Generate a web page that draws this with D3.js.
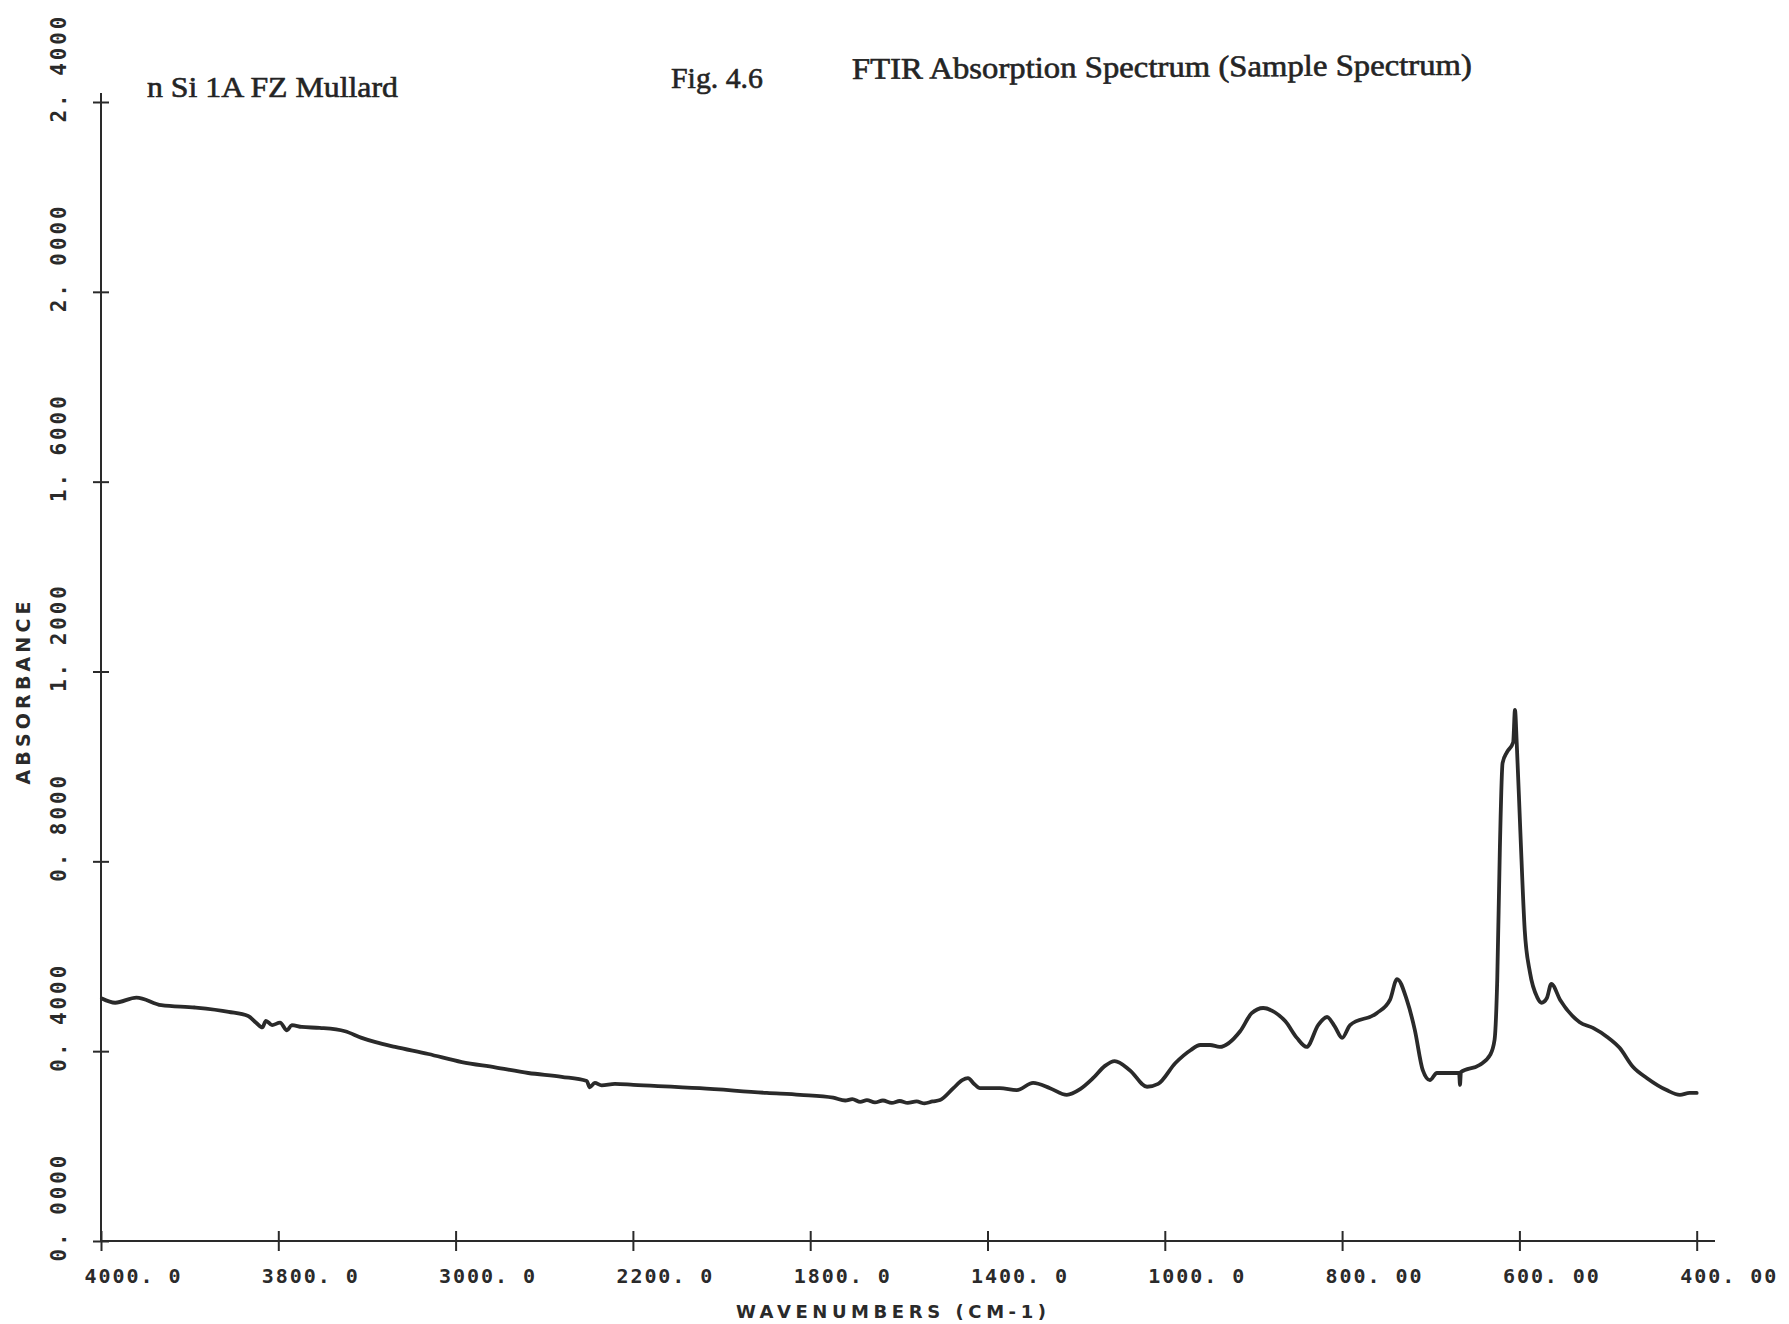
<!DOCTYPE html>
<html>
<head>
<meta charset="utf-8">
<script src="https://cdn.jsdelivr.net/npm/d3@7/dist/d3.min.js"></script>
<style>
  html, body { margin: 0; padding: 0; background: #ffffff; }
  svg { display: block; }
</style>
</head>
<body>
<svg id="chart" width="1789" height="1324"></svg>
<script>
// ---------- DATA ----------
const xTickValues = [4000, 3800, 3000, 2200, 1800, 1400, 1000, 800, 600, 400];
const xTickLabels = ["4000. 0", "3800. 0", "3000. 0", "2200. 0", "1800. 0", "1400. 0", "1000. 0", "800. 00", "600. 00", "400. 00"];
const yTickValues = [0, 0.4, 0.8, 1.2, 1.6, 2.0, 2.4];
const yTickLabels = ["0. 0000", "0. 4000", "0. 8000", "1. 2000", "1. 6000", "2. 0000", "2. 4000"];

const wavenumbers = [
  3999, 3984, 3960, 3932, 3894, 3856, 3834, 3825, 3818, 3814, 3807, 3792, 3761, 3739, 3694, 3613,
  3499, 3424, 3361, 3273, 3123, 2972, 2822, 2672, 2521, 2408, 2395, 2372, 2341, 2281, 2199, 2049,
  1898, 1823, 1748, 1721, 1705, 1687, 1672, 1654, 1636, 1616, 1598, 1580, 1560, 1542, 1524, 1507,
  1477, 1457, 1444, 1430, 1417, 1372, 1334, 1297, 1259, 1221, 1191, 1162, 1135, 1113, 1079, 1040,
  1015, 988, 971, 960, 949, 938, 915, 902, 889, 876, 864, 851, 840, 827, 817, 808,
  800, 791, 761, 746, 738, 727, 718, 709, 701, 693, 668, 667, 666, 645, 633, 628,
  625, 622, 619, 614, 607, 605, 603, 599, 594, 588, 580, 575, 569, 564, 554, 532,
  517, 501, 487, 472, 456, 434, 419, 408, 400
];
const absorbance = [
  0.511, 0.502, 0.513, 0.497, 0.492, 0.483, 0.474, 0.460, 0.450, 0.464, 0.455, 0.460, 0.444, 0.455, 0.451, 0.449,
  0.442, 0.428, 0.419, 0.409, 0.394, 0.377, 0.366, 0.354, 0.346, 0.337, 0.324, 0.333, 0.328, 0.331, 0.329, 0.322,
  0.312, 0.308, 0.302, 0.296, 0.299, 0.293, 0.297, 0.292, 0.296, 0.291, 0.295, 0.291, 0.294, 0.290, 0.294, 0.297,
  0.322, 0.339, 0.343, 0.331, 0.322, 0.322, 0.318, 0.333, 0.322, 0.308, 0.320, 0.343, 0.369, 0.379, 0.360, 0.325,
  0.331, 0.375, 0.402, 0.413, 0.413, 0.409, 0.442, 0.480, 0.491, 0.482, 0.463, 0.428, 0.409, 0.455, 0.472, 0.451,
  0.428, 0.455, 0.480, 0.508, 0.552, 0.508, 0.445, 0.360, 0.339, 0.354, 0.354, 0.329, 0.356, 0.371, 0.392, 0.424,
  0.550, 0.830, 1.007, 1.030, 1.051, 1.119, 1.049, 0.866, 0.655, 0.565, 0.514, 0.502, 0.512, 0.542, 0.508, 0.461,
  0.449, 0.430, 0.407, 0.367, 0.343, 0.318, 0.308, 0.312, 0.312
];

// ---------- LAYOUT ----------
const X0 = 101, XSTEP = 177.3;
const Y0 = 1241, YTOP = 102;
const ink = "#2a2a2a";

const svg = d3.select("#chart");
svg.append("rect").attr("width", 1789).attr("height", 1324).attr("fill", "#ffffff");

// split wavenumber scale: each labelled tick equally spaced
const x = d3.scaleLinear()
  .domain(xTickValues)
  .range(xTickValues.map((d, i) => X0 + i * XSTEP));
const y = d3.scaleLinear().domain([0, 2.4]).range([Y0, YTOP]);

const plotFont = "'DejaVu Sans Mono', monospace";

// ---------- X AXIS ----------
const xAxis = d3.axisBottom(x)
  .tickValues(xTickValues)
  .tickFormat((d, i) => xTickLabels[i])
  .tickSizeOuter(0)
  .tickSizeInner(10);
const gx = svg.append("g").attr("transform", `translate(0,${Y0})`).call(xAxis);
gx.select(".domain").remove();
gx.selectAll(".tick line").attr("y1", -10).attr("y2", 10).attr("stroke", ink).attr("stroke-width", 2);
gx.selectAll(".tick text")
  .attr("x", -17).attr("y", 35).attr("dy", "0.35em")
  .attr("text-anchor", "start")
  .attr("font-family", plotFont).attr("font-weight", "bold").attr("font-size", 20)
  .attr("fill", ink)
  .attr("textLength", 96).attr("lengthAdjust", "spacing");
gx.append("line").attr("x1", X0).attr("x2", 1715).attr("y1", 0).attr("y2", 0)
  .attr("stroke", ink).attr("stroke-width", 2.2);

// ---------- Y AXIS ----------
const yAxis = d3.axisLeft(y)
  .tickValues(yTickValues)
  .tickFormat((d, i) => yTickLabels[i])
  .tickSizeOuter(0)
  .tickSizeInner(8);
const gy = svg.append("g").attr("transform", `translate(${X0},0)`).call(yAxis);
gy.select(".domain").remove();
gy.selectAll(".tick line").attr("x1", -8).attr("x2", 8).attr("stroke", ink).attr("stroke-width", 2);
gy.selectAll(".tick text")
  .attr("x", null).attr("dy", null)
  .attr("transform", "translate(-42,20) rotate(-90)")
  .attr("dy", "0.35em")
  .attr("text-anchor", "start")
  .attr("font-family", plotFont).attr("font-weight", "bold").attr("font-size", 21)
  .attr("fill", ink)
  .attr("textLength", 106).attr("lengthAdjust", "spacing");
gy.append("line").attr("x1", 0).attr("x2", 0).attr("y1", 93).attr("y2", Y0)
  .attr("stroke", ink).attr("stroke-width", 2);

// ---------- AXIS TITLES ----------
svg.append("text")
  .attr("transform", "translate(23,693) rotate(-90)")
  .attr("text-anchor", "middle").attr("dy", "0.35em")
  .attr("font-family", "'DejaVu Sans', sans-serif").attr("font-weight", "bold").attr("font-size", 19)
  .attr("fill", ink)
  .attr("textLength", 183).attr("lengthAdjust", "spacing")
  .text("ABSORBANCE");

svg.append("text")
  .attr("x", 891).attr("y", 1312).attr("dy", "0.35em")
  .attr("text-anchor", "middle")
  .attr("font-family", "'DejaVu Sans', sans-serif").attr("font-weight", "bold").attr("font-size", 18)
  .attr("fill", ink)
  .attr("textLength", 310).attr("lengthAdjust", "spacing")
  .text("WAVENUMBERS  (CM-1)");

// ---------- TITLES ----------
const serif = "'Liberation Serif', 'Times New Roman', serif";
const titleStyle = sel => sel
  .attr("font-family", serif).attr("font-size", 30).attr("fill", "#242424")
  .attr("stroke", "#242424").attr("stroke-width", 0.6)
  .attr("lengthAdjust", "spacingAndGlyphs");
svg.append("text").call(titleStyle)
  .attr("x", 147).attr("y", 97)
  .attr("textLength", 251)
  .text("n Si 1A FZ Mullard");
svg.append("text").call(titleStyle)
  .attr("x", 671).attr("y", 88)
  .attr("textLength", 92)
  .text("Fig. 4.6");
svg.append("text").call(titleStyle)
  .attr("transform", "translate(852,79) rotate(-0.4)")
  .attr("textLength", 620)
  .text("FTIR Absorption Spectrum (Sample Spectrum)");

// ---------- SPECTRUM ----------
const pts = wavenumbers.map((w, i) => [w, absorbance[i]]);
const line = d3.line()
  .x(d => x(d[0]))
  .y(d => y(d[1]))
  .curve(d3.curveMonotoneX);
svg.append("path")
  .datum(pts)
  .attr("d", line)
  .attr("fill", "none")
  .attr("stroke", ink)
  .attr("stroke-width", 3.8)
  .attr("stroke-linejoin", "round")
  .attr("stroke-linecap", "round");
</script>
</body>
</html>
